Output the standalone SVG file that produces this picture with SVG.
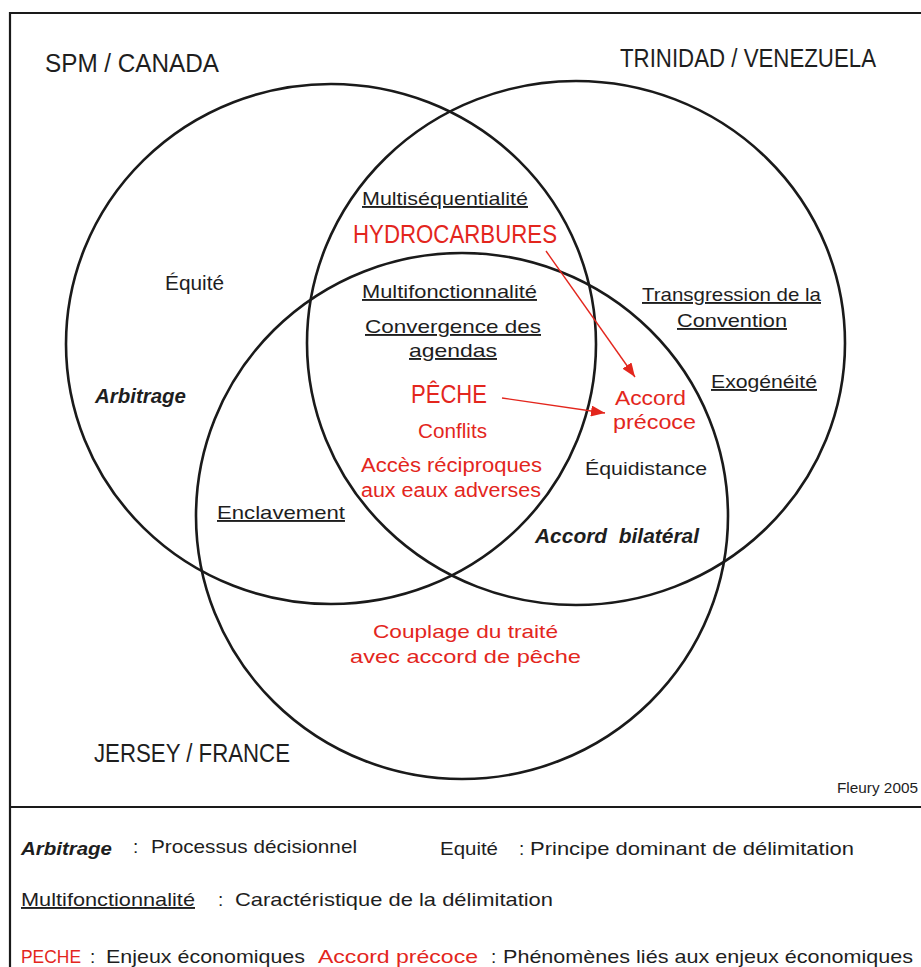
<svg xmlns="http://www.w3.org/2000/svg" width="921" height="967" viewBox="0 0 921 967">
<style>
text{font-family:"Liberation Sans",Arial,sans-serif;fill:#1e1e1e}
.r{fill:#e3261d}
.u{text-decoration:underline}
.bi{font-weight:bold;font-style:italic}
.t{font-size:26px}
.l{font-size:19px}
.pre{white-space:pre}
.circ{fill:none;stroke:#1a1a1a;stroke-width:2.6}
.frame{fill:none;stroke:#1a1a1a;stroke-width:2.2}
.arr{stroke:#e3261d;stroke-width:1.4;fill:none}
</style>
<defs>
<marker id="ah" viewBox="0 0 14 11" refX="14" refY="5.5" markerWidth="14" markerHeight="11" markerUnits="userSpaceOnUse" orient="auto">
<path d="M0,0 L14,5.5 L0,11 z" fill="#e3261d"/>
</marker>
</defs>
<rect width="921" height="967" fill="#fff"/>
<g id="frame">
<path class="frame" d="M10,967 V13 H923 M10,807 H923"/>
</g>
<g id="spm-canada">
<ellipse class="circ" cx="331" cy="344" rx="265" ry="260"/>
<text class="t" x="45" y="72" textLength="174" lengthAdjust="spacingAndGlyphs">SPM / CANADA</text>
</g>
<g id="trinidad-venezuela">
<ellipse class="circ" cx="576" cy="343" rx="269" ry="262"/>
<text class="t" x="620" y="67" textLength="256" lengthAdjust="spacingAndGlyphs">TRINIDAD / VENEZUELA</text>
</g>
<g id="jersey-france">
<ellipse class="circ" cx="462" cy="516" rx="266" ry="263"/>
<text class="t" x="94" y="762" textLength="196" lengthAdjust="spacingAndGlyphs">JERSEY / FRANCE</text>
</g>
<g id="labels">
<text x="165" y="290" font-size="20" textLength="59" lengthAdjust="spacingAndGlyphs">Équité</text>
<text class="bi" x="95" y="403" font-size="20" textLength="91" lengthAdjust="spacingAndGlyphs">Arbitrage</text>
<text class="u l" x="362" y="205" textLength="166" lengthAdjust="spacingAndGlyphs">Multiséquentialité</text>
<text class="r" x="353" y="243" font-size="25" textLength="204" lengthAdjust="spacingAndGlyphs">HYDROCARBURES</text>
<text class="u l" x="362" y="298" textLength="175" lengthAdjust="spacingAndGlyphs">Multifonctionnalité</text>
<text class="u l" x="365" y="333" textLength="176" lengthAdjust="spacingAndGlyphs">Convergence des</text>
<text class="u l" x="409" y="357" textLength="88" lengthAdjust="spacingAndGlyphs">agendas</text>
<text class="r" x="411" y="403" font-size="25" textLength="76" lengthAdjust="spacingAndGlyphs">PÊCHE</text>
<text class="r" x="418" y="438" font-size="20" textLength="69" lengthAdjust="spacingAndGlyphs">Conflits</text>
<text class="r" x="361" y="472" font-size="20" textLength="181" lengthAdjust="spacingAndGlyphs">Accès réciproques</text>
<text class="r" x="361" y="497" font-size="20" textLength="180" lengthAdjust="spacingAndGlyphs">aux eaux adverses</text>
<text class="r" x="615" y="405" font-size="20" textLength="71" lengthAdjust="spacingAndGlyphs">Accord</text>
<text class="r" x="613" y="429" font-size="20" textLength="83" lengthAdjust="spacingAndGlyphs">précoce</text>
<text class="u l" x="642" y="301" textLength="179" lengthAdjust="spacingAndGlyphs">Transgression de la</text>
<text class="u l" x="677" y="327" textLength="110" lengthAdjust="spacingAndGlyphs">Convention</text>
<text class="u l" x="711" y="388" textLength="106" lengthAdjust="spacingAndGlyphs">Exogénéité</text>
<text class="l" x="585" y="475" textLength="122" lengthAdjust="spacingAndGlyphs">Équidistance</text>
<text class="bi pre" x="535" y="543" font-size="20" textLength="164" lengthAdjust="spacingAndGlyphs">Accord  bilatéral</text>
<text class="u l" x="217" y="519" textLength="128" lengthAdjust="spacingAndGlyphs">Enclavement</text>
<text class="r l" x="373" y="638" textLength="185" lengthAdjust="spacingAndGlyphs">Couplage du traité</text>
<text class="r l" x="350" y="663" textLength="231" lengthAdjust="spacingAndGlyphs">avec accord de pêche</text>
<text x="837" y="793" font-size="14" textLength="81" lengthAdjust="spacingAndGlyphs">Fleury 2005</text>
</g>
<g id="connectors">
<line class="arr" x1="546" y1="251" x2="635" y2="377" marker-end="url(#ah)"/>
<line class="arr" x1="502" y1="398" x2="605" y2="413" marker-end="url(#ah)"/>
</g>
<g id="legend">
<text class="bi" x="21" y="855" font-size="19" textLength="91" lengthAdjust="spacingAndGlyphs">Arbitrage</text>
<text class="l" x="133" y="853">:</text>
<text class="l" x="151" y="853" textLength="206" lengthAdjust="spacingAndGlyphs">Processus décisionnel</text>
<text class="l" x="440" y="855" textLength="58" lengthAdjust="spacingAndGlyphs">Equité</text>
<text class="l" x="519" y="855">:</text>
<text class="l" x="530" y="855" textLength="324" lengthAdjust="spacingAndGlyphs">Principe dominant de délimitation</text>
<text class="u l" x="21" y="906" textLength="174" lengthAdjust="spacingAndGlyphs">Multifonctionnalité</text>
<text class="l" x="218" y="906">:</text>
<text class="l" x="235" y="906" textLength="318" lengthAdjust="spacingAndGlyphs">Caractéristique de la délimitation</text>
<text class="r l" x="21" y="963" textLength="60" lengthAdjust="spacingAndGlyphs">PECHE</text>
<text class="l" x="90" y="963">:</text>
<text class="l" x="106" y="963" textLength="199" lengthAdjust="spacingAndGlyphs">Enjeux économiques</text>
<text class="r l" x="318" y="963" textLength="160" lengthAdjust="spacingAndGlyphs">Accord précoce</text>
<text class="l" x="491" y="963">:</text>
<text class="l" x="503" y="963" textLength="410" lengthAdjust="spacingAndGlyphs">Phénomènes liés aux enjeux économiques</text>
</g>
</svg>
